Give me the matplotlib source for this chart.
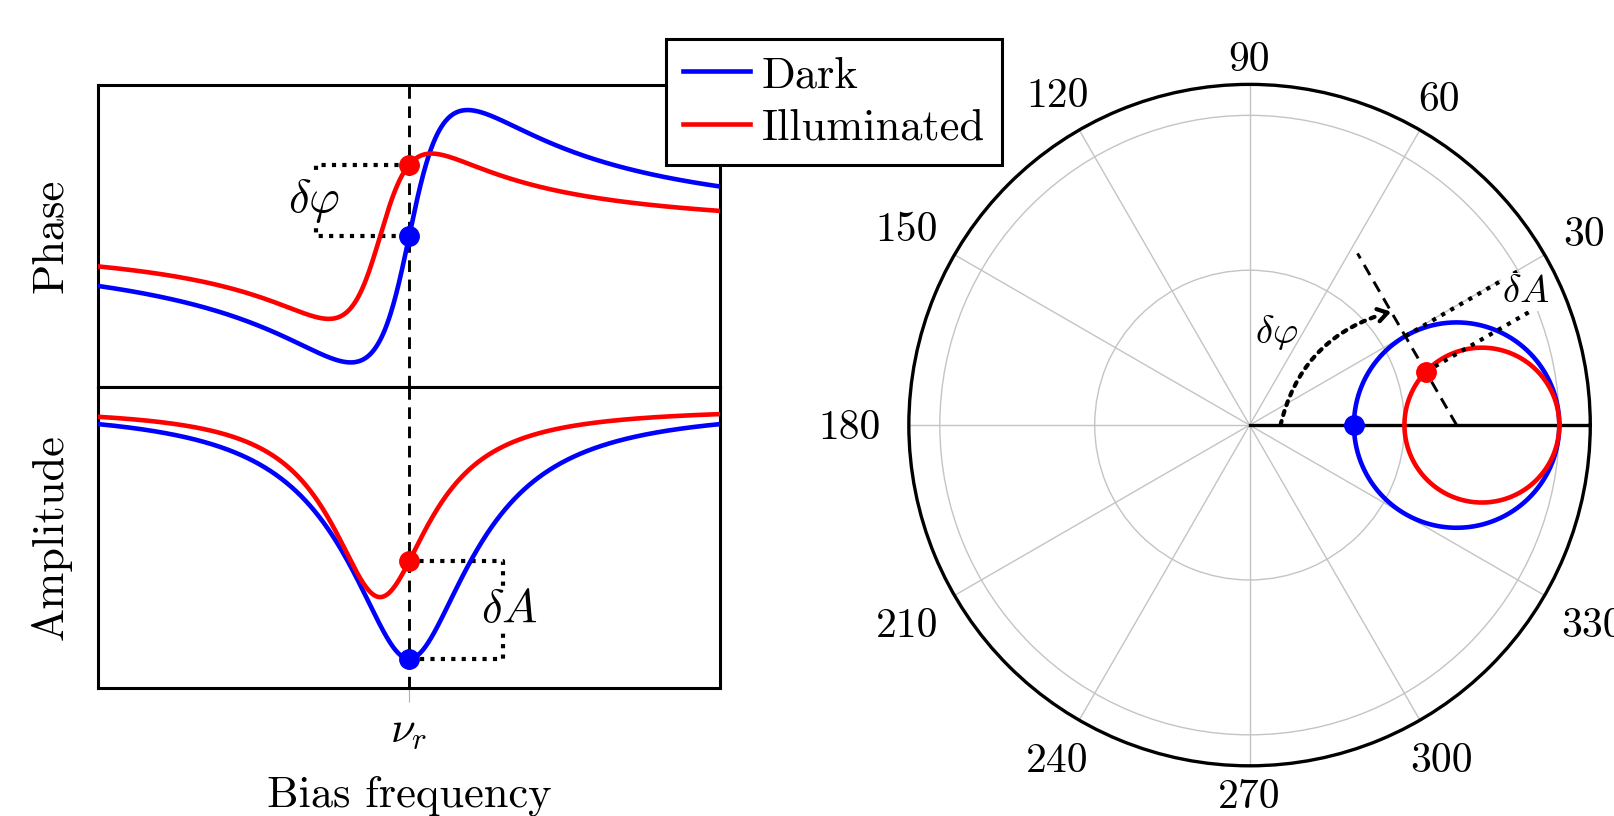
import numpy as np
import matplotlib
matplotlib.use("Agg")
import matplotlib.pyplot as plt

plt.rcParams['font.family'] = 'cmr10'
plt.rcParams['mathtext.fontset'] = 'cm'
plt.rcParams['axes.formatter.use_mathtext'] = True

# resonator parameters, frequency in units of the plotted span (nu_r = 0)
nu_r = 0.0
f0_dark = 0.0
f0_ill = -0.28
width_dark = 0.97
width_ill = 0.70
depth_dark = 0.663   # 1 - |S21| at resonance
depth_ill = 0.50
series_labels = ['Dark', 'Illuminated']
series_colors = ['blue', 'red']
theta_ticks = [0, 30, 60, 90, 120, 150, 180, 210, 240, 270, 300, 330]
r_rings = [0.5, 1.0]
r_max = 1.1

FS = 32
LW = 3.3
DOT = dict(linestyle=(0, (1, 1.5)), lw=3.0, color='k')
DASH = dict(linestyle=(0, (4, 2.6)), lw=2.1, color='k')


def s21(f, f0, width, depth):
    return 1 - depth / (1 + 1j * (f - f0) / width)


params = [(f0_dark, width_dark, depth_dark), (f0_ill, width_ill, depth_ill)]

fig = plt.figure(figsize=(16.14, 8.16), dpi=100)
ax_ph = fig.add_axes([0.0606, 0.5257, 0.3858, 0.3696])
ax_am = fig.add_axes([0.0606, 0.1574, 0.3858, 0.3683])

f = np.linspace(-3, 3, 3000)
handles = []
at_nu = []
for (f0, w, a), lab, col in zip(params, series_labels, series_colors):
    s = s21(f, f0, w, a)
    h, = ax_ph.plot(f, np.angle(s), color=col, lw=LW, label=lab, zorder=3)
    ax_am.plot(f, np.abs(s), color=col, lw=LW, zorder=3)
    handles.append(h)
    at_nu.append(complex(s21(nu_r, f0, w, a)))

for ax in (ax_ph, ax_am):
    ax.set_xlim(-3, 3)
    ax.axvline(nu_r, zorder=1, **DASH)
    ax.set_xticks([nu_r])
    ax.set_yticks([])
    ax.tick_params(axis='x', direction='out', length=10, width=0.8,
                   color='#b0b0b0', labelsize=FS, pad=6.5)
    for sp in ax.spines.values():
        sp.set_linewidth(2.2)

ax_ph.set_ylim(-0.62, 0.62)
ax_am.set_ylim(0.261, 1.055)
ax_ph.set_xticklabels([''])
ax_am.set_xticklabels([r'$\nu_r$'])
ax_ph.set_ylabel('Phase', fontsize=FS, labelpad=19)
ax_am.set_ylabel('Amplitude', fontsize=FS, labelpad=19)
ax_am.set_xlabel('Bias frequency', fontsize=FS, labelpad=18)

# phase shift bracket
ph_d, ph_i = np.angle(at_nu[0]), np.angle(at_nu[1])
xb = -0.9
ax_ph.plot([nu_r, xb, xb, nu_r], [ph_i, ph_i, ph_d, ph_d], zorder=2, **DOT)
ax_ph.text(-0.92, (ph_d + ph_i) / 2, r'$\delta\varphi$', fontsize=34,
           ha='center', va='center', zorder=4,
           bbox=dict(fc='white', ec='none', pad=1))
# amplitude shift bracket
am_d, am_i = abs(at_nu[0]), abs(at_nu[1])
xb = 0.9
ax_am.plot([nu_r, xb, xb, nu_r], [am_i, am_i, am_d, am_d], zorder=2, **DOT)
ax_am.text(0.97, (am_d + am_i) / 2, r'$\delta A$', fontsize=34,
           ha='center', va='center', zorder=4,
           bbox=dict(fc='white', ec='none', pad=1))

for z, col in zip(at_nu, series_colors):
    ax_ph.plot(nu_r, np.angle(z), 'o', color=col, ms=14, zorder=5)
    ax_am.plot(nu_r, abs(z), 'o', color=col, ms=14, zorder=5)

# IQ plane
ax_p = fig.add_axes([0.5631, 0.0615, 0.4222, 0.8351], projection='polar')
ax_p.set_rlim(0, r_max)
ax_p.set_rticks(r_rings)
ax_p.set_yticklabels([])
ax_p.set_thetagrids(theta_ticks, [''] * len(theta_ticks))
ax_p.grid(color='#c4c4c4', lw=1.0)
ax_p.spines['polar'].set_linewidth(2.4)
ax_p.tick_params(axis='x', direction='out', length=11, width=1,
                 color='#c4c4c4')


def pol(z):
    # complex point(s) -> (theta, r)
    if np.isscalar(z):
        return float(np.angle(z)), float(abs(z))
    return np.angle(z), np.abs(z)


ax_p.plot([0, 0], [0, r_max], color='k', lw=2.4, zorder=2.5)
t = np.linspace(-np.pi / 2 + 1e-4, np.pi / 2 - 1e-4, 2001)
for (f0, w, a), col in zip(params, series_colors):
    s = s21(f0 + w * np.tan(t), f0, w, a)
    ax_p.plot(*pol(s), color=col, lw=LW, zorder=3)

c = 1 - depth_dark / 2
r_c = depth_dark / 2
p_ill = at_nu[1]
d = (p_ill - c) / abs(p_ill - c)
p_dark = c + r_c * d
n = d * -1j

ax_p.plot(*pol(np.array([c, c + 0.64 * d])), zorder=4, **DASH)
for p in (p_ill, p_dark):
    ax_p.plot(*pol(np.array([p, p + 0.43 * n])), zorder=4, **DOT)
ax_p.text(*pol(0.89 + 0.43j), r'$\delta A$', fontsize=28, ha='center',
          va='center', zorder=5, bbox=dict(fc='white', ec='none', pad=0.5))

# phase arrow from the real axis to the dashed line
z0 = 0.10 + 0j
z1 = c + (0.366 / d.imag) * d
rad = -0.3
ax_p.annotate('', xy=pol(z1), xytext=pol(z0),
              arrowprops=dict(arrowstyle='-', connectionstyle=f'arc3,rad={rad}',
                              shrinkA=0, shrinkB=10, lw=3.0,
                              linestyle=(0, (1, 1.5))), zorder=4)
ctrl = (z0 + z1) / 2 + rad * ((z1 - z0).imag - 1j * (z1 - z0).real)
tang = (z1 - ctrl) / abs(z1 - ctrl)
ax_p.annotate('', xy=pol(z1), xytext=pol(z1 - 0.02 * tang),
              arrowprops=dict(arrowstyle='->,head_length=0.7,head_width=0.45',
                              shrinkA=0, shrinkB=10, lw=3.0), zorder=4)
ax_p.text(*pol(0.086 + 0.30j), r'$\delta\varphi$', fontsize=28, ha='center',
          va='center', zorder=5)

for z, col in zip(at_nu, series_colors):
    ax_p.plot(*pol(z), 'o', color=col, ms=14, zorder=6)

# angle labels just outside the rim, wide labels pushed out sideways
renderer = fig.canvas.get_renderer()
cap = 0.68 * 30 * fig.dpi / 72
for deg in theta_ticks:
    th = np.deg2rad(deg)
    lab = ax_p.annotate(str(deg), xy=(th, 1.19), xycoords='data',
                        xytext=(0, 0), textcoords='offset pixels',
                        ha='center', va='baseline', fontsize=30,
                        annotation_clip=False)
    half_w = lab.get_window_extent(renderer).width / 2
    cs, sn = np.cos(th), np.sin(th)
    extra = abs(cs) * half_w
    lab.xyann = (extra * cs, extra * sn - cap / 2)

leg = fig.legend(handles, series_labels, loc='upper left',
                 bbox_to_anchor=(666 / 1614, 1 - 39 / 816), fontsize=32,
                 frameon=True, fancybox=False, edgecolor='k', framealpha=1,
                 borderaxespad=0, handlelength=1.5, handletextpad=0.28,
                 borderpad=0.38, labelspacing=0.28)
leg.get_frame().set_linewidth(2.2)

fig.savefig('out.png', dpi=100)
